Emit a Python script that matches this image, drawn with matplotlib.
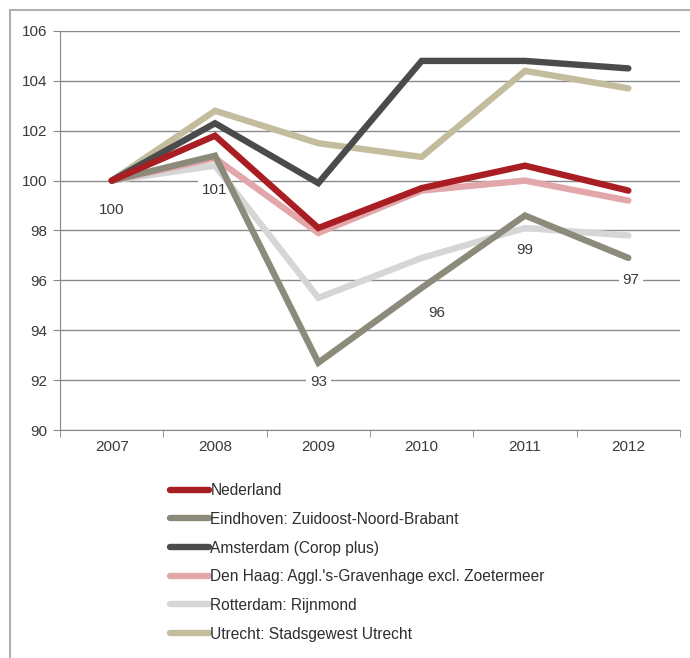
import matplotlib
matplotlib.use("Agg")
from matplotlib import pyplot as plt
from matplotlib.lines import Line2D

years = ["2007", "2008", "2009", "2010", "2011", "2012"]

nederland = [100, 101.8, 98.1, 99.7, 100.6, 99.6]
eindhoven = [100, 101.0, 92.7, 95.7, 98.6, 96.9]
amsterdam = [100, 102.3, 99.9, 104.8, 104.8, 104.5]
den_haag = [100, 100.9, 97.9, 99.6, 100.0, 99.2]
rotterdam = [100, 100.6, 95.3, 96.9, 98.1, 97.8]
utrecht = [100, 102.8, 101.5, 100.95, 104.4, 103.7]

series = [
    ("Nederland", nederland, "#a81e22"),
    ("Eindhoven: Zuidoost-Noord-Brabant", eindhoven, "#8b8a7b"),
    ("Amsterdam (Corop plus)", amsterdam, "#4b4b4d"),
    ("Den Haag: Aggl.'s-Gravenhage excl. Zoetermeer", den_haag, "#e2a7aa"),
    ("Rotterdam: Rijnmond", rotterdam, "#d6d6d6"),
    ("Utrecht: Stadsgewest Utrecht", utrecht, "#c3bd9d"),
]

# label offsets (points) for the Eindhoven value labels
label_offsets = [(0, -21), (0, -25), (0, -14), (11, -18), (0, -25), (2, -16)]

plt.rcParams["font.family"] = ["Liberation Sans", "DejaVu Sans"]

fig = plt.figure(figsize=(6.9, 6.58), dpi=100)
ax = fig.add_axes([0.087, 0.3465, 0.8985, 0.6064])

x = list(range(1, len(years) + 1))
handles = []
for name, values, color in series[::-1]:
    ax.plot(x, values, color=color, lw=4.6, solid_joinstyle="miter",
            solid_capstyle="round", zorder=3)
for name, values, color in series:
    handles.append(Line2D([], [], color=color, lw=4.6,
                          solid_capstyle="round", label=name))

for xi, val, off in zip(x, eindhoven, label_offsets):
    ax.annotate(f"{val:.0f}", (xi, val), xytext=off, textcoords="offset points",
                ha="center", va="center", fontsize=11, color="#3a3a3a",
                bbox=dict(boxstyle="square,pad=0.25", fc="white", ec="none"),
                zorder=2)

ax.set_xlim(0.5, len(years) + 0.5)
ax.set_ylim(90, 106)
ax.set_yticks(range(90, 107, 2))
ax.set_xticks(x)
ax.set_xticklabels(years)
ax.set_xticks([i + 0.5 for i in range(0, len(years) + 1)], minor=True)
ax.tick_params(axis="x", which="major", length=0, pad=7, labelsize=11,
               labelcolor="#3a3a3a")
ax.tick_params(axis="x", which="minor", length=5, color="#888888", direction="out")
ax.tick_params(axis="y", length=5, color="#888888", labelsize=11,
               labelcolor="#3a3a3a", pad=4)
ax.yaxis.grid(True, color="#8a8a8a", lw=1)
ax.set_axisbelow(True)
for side in ["top", "right"]:
    ax.spines[side].set_visible(False)
for side in ["left", "bottom"]:
    ax.spines[side].set_color("#888888")

fig.legend(handles=handles, loc="upper left", bbox_to_anchor=(0.226, 0.287),
           frameon=False, fontsize=11.2, handlelength=2.5, handletextpad=0.1,
           labelspacing=0.88, labelcolor="#2e2e2e")

# thin frame along the top and left edge
fig.add_artist(Line2D([0.0145, 0.0145], [0.0, 0.985], color="#b0b0b0", lw=1.5,
                      transform=fig.transFigure))
fig.add_artist(Line2D([0.0145, 1.0], [0.985, 0.985], color="#b0b0b0", lw=1.5,
                      transform=fig.transFigure))

fig.savefig("out.png", dpi=100, facecolor="white")
